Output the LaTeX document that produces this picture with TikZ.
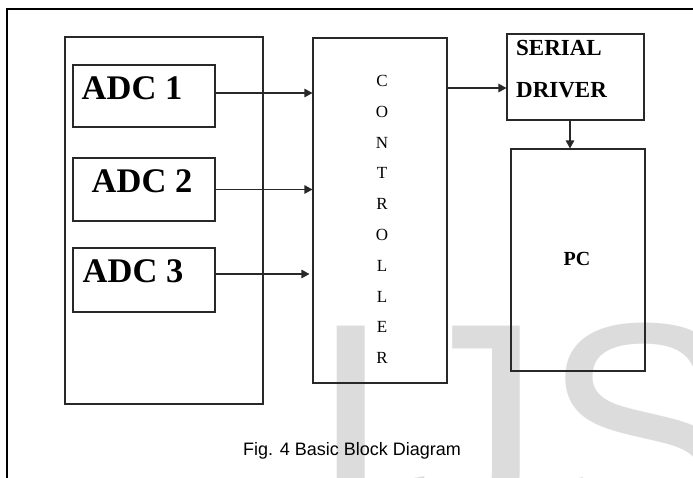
\documentclass[tikz,border=0pt]{standalone}
\usepackage{fontspec}
\setmainfont{Liberation Serif}
\newfontfamily\capfont{Liberation Sans}
\usetikzlibrary{arrows.meta}
\definecolor{wmgray}{RGB}{220,220,220}
\definecolor{linegray}{RGB}{40,40,40}

\begin{document}
\begin{tikzpicture}[x=1pt, y=-1pt, >={Triangle[length=8pt,width=8.5pt]},
    blk/.style={draw=linegray, line width=1.1pt, inner sep=0pt},
    bigtxt/.style={font=\fontsize{34.5}{36}\selectfont\bfseries, inner sep=0pt, anchor=base west},
    midtxt/.style={font=\fontsize{23}{25}\selectfont\bfseries, inner sep=0pt, anchor=base west},
    ltr/.style={font=\fontsize{17}{18}\selectfont, inner sep=0pt},
    conn/.style={->, line width=1.1pt, draw=linegray}]

    \useasboundingbox (0,0) rectangle (693,477);
    \clip (0,0) rectangle (693,477);

    % watermark
    \node[wmgray, font=\capfont\fontsize{300}{300}\selectfont, inner sep=0pt, anchor=base west] (wm) at (309,532) {IJS};

    % frame
    \draw[line width=2pt] (7,540) -- (7,9) -- (720,9);

    % blocks
    \node[blk, minimum width=198pt, minimum height=367pt] (bank) at (164,220.5) {};
    \node[blk, minimum width=142pt, minimum height=62pt] (adc1) at (144,96) {};
    \node[blk, minimum width=142pt, minimum height=63pt] (adc2) at (144,189.5) {};
    \node[blk, minimum width=142pt, minimum height=64pt] (adc3) at (144,280) {};
    \node[blk, minimum width=134pt, minimum height=345pt] (ctrl) at (380,210.5) {};
    \node[blk, minimum width=137pt, minimum height=86pt] (ser) at (575.5,77) {};
    \node[blk, minimum width=134pt, minimum height=222pt] (pc) at (578,260) {};

    % labels
    \node[bigtxt] (adc1txt) at (81.5,99) {ADC 1};
    \node[bigtxt] (adc2txt) at (91.5,192) {ADC 2};
    \node[bigtxt] (adc3txt) at (82.5,282) {ADC 3};
    \node[midtxt] (sertxt) at (516,55) {SERIAL};
    \node[midtxt] (drvtxt) at (516,97) {DRIVER};
    \node[font=\fontsize{20}{22}\selectfont\bfseries, inner sep=0pt, anchor=base] (pctxt) at (577,265) {PC};
    \foreach \c [count=\i] in {C,O,N,T,R,O,L,L,E,R}
        \node[ltr] (ctl\i) at (382,{81+30.8*(\i-1)}) {\c};

    % arrows
    \draw[conn] ([yshift=3pt]adc1.east) -- ([yshift=3pt]adc1.east -| ctrl.west);
    \draw[conn] (adc2.east) -- (adc2.east -| ctrl.west);
    \draw[conn, shorten >=3pt] ([yshift=6pt]adc3.east) -- ([yshift=6pt]adc3.east -| ctrl.west);
    \coordinate (serin) at ([yshift=-11pt]ser.west);
    \draw[conn] (ctrl.east |- serin) -- (serin);
    \draw[conn] ([xshift=-5.5pt]ser.south) -- ([xshift=-5.5pt]ser.south |- pc.north);

    % caption
    \node[font=\capfont\fontsize{18}{20}\selectfont, inner sep=0pt, anchor=base] (cap) at (352,455) {Fig. 4 Basic Block Diagram};
\end{tikzpicture}
\end{document}
